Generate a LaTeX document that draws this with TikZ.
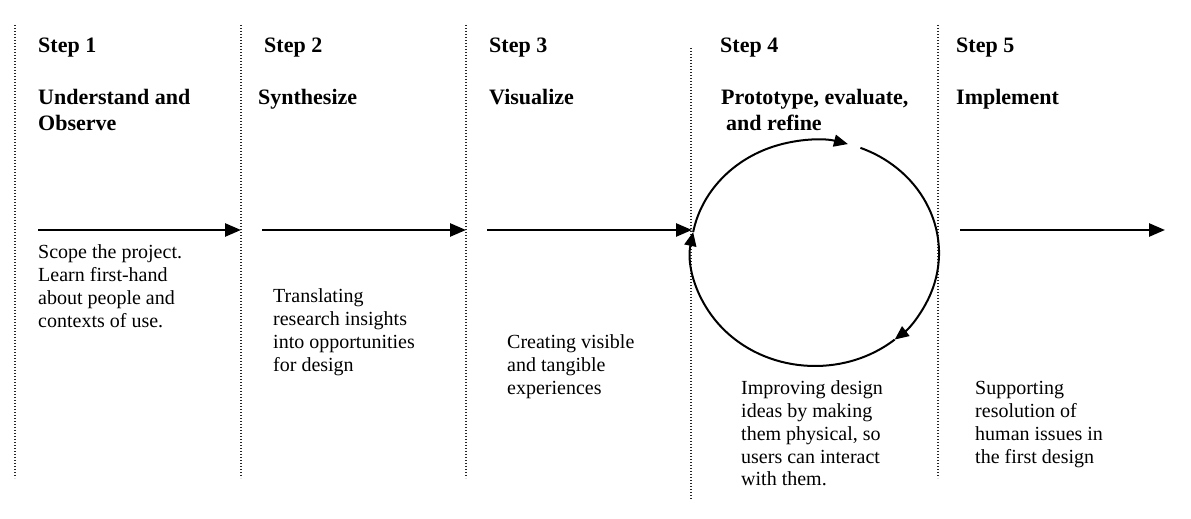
\documentclass[tikz,border=0pt]{standalone}
\usepackage{fontspec}
\setmainfont{Liberation Serif}
\usetikzlibrary{arrows.meta,calc}
\begin{document}
\begin{tikzpicture}[x=1pt,y=1pt,
  sep/.style={draw=black!85, line width=1.1pt, dash pattern=on 1.1pt off 1.9pt},
  flow/.style={line width=2.6pt, -{Triangle[length=16pt,width=13pt]}},
  cyc/.style={line width=2pt, -{Triangle[length=14pt,width=12pt]}},
  title/.style={anchor=base west, inner sep=0pt, align=left, font=\fontsize{22}{26}\selectfont\bfseries},
  body/.style={anchor=base west, inner sep=0pt, align=left, font=\fontsize{20}{22.7}\selectfont}]
\useasboundingbox (0,0) rectangle (1191,519);
% separators
\coordinate (s1t) at (15,494);  \coordinate (s1b) at (15,41);
\coordinate (s2t) at (241,494); \coordinate (s2b) at (241,41);
\coordinate (s3t) at (466,494); \coordinate (s3b) at (466,41);
\coordinate (s4t) at (691,471); \coordinate (s4b) at (691,19);
\coordinate (s5t) at (938,494); \coordinate (s5b) at (938,41);
\foreach \i in {1,...,5} \draw[sep] (s\i t) -- (s\i b);
% titles
\node[title] (t1) at (38,466) {Step 1};
\node[title] (t2) at (264,466) {Step 2};
\node[title] (t3) at (489,466) {Step 3};
\node[title] (t4) at (720,466) {Step 4};
\node[title] (t5) at (956,466) {Step 5};
\node[title] (h1) at (38,388) {Understand and\\Observe};
\node[title] (h2) at (258,414) {Synthesize};
\node[title] (h3) at (489,414) {Visualize};
\node[title] (h4) at (721,388) {Prototype, evaluate,\\\hspace*{5pt}and refine};
\node[title] (h5) at (956,414) {Implement};
% bodies (anchor = baseline of last line)
\node[body] (b1) at (38,191.9) {Scope the project.\\Learn first-hand\\about people and\\contexts of use.};
\node[body] (b2) at (273,147.9) {Translating\\research insights\\into opportunities\\for design};
\node[body] (b3) at (507,124.6) {Creating visible\\and tangible\\experiences};
\node[body] (b4) at (741,33.2) {Improving design\\ideas by making\\them physical, so\\users can interact\\with them.};
\node[body] (b5) at (975,55.9) {Supporting\\resolution of\\human issues in\\the first design};
% flow arrows
\coordinate (a1s) at (38,289);  \coordinate (a1e) at (241,289);
\coordinate (a2s) at (262,289); \coordinate (a2e) at (466,289);
\coordinate (a3s) at (487,289); \coordinate (a3e) at (692,289);
\coordinate (a5s) at (960,289); \coordinate (a5e) at (1165,289);
\draw[flow] (a1s) -- (a1e);
\draw[flow] (a2s) -- (a2e);
\draw[flow] (a3s) -- (a3e);
\draw[flow] (a5s) -- (a5e);
% cycle
\coordinate (c) at (815,266);
\draw[cyc] ($(c)+(68.5:124 and 113)$) arc[start angle=68.5,end angle=-50,x radius=124,y radius=113];
\draw[cyc] ($(c)+(-50:124 and 113)$) arc[start angle=-50,end angle=-190.7,x radius=124,y radius=113];
\draw[cyc] ($(c)+(-190.7:124 and 113)$) arc[start angle=-190.7,end angle=-285.4,x radius=124,y radius=113];
\end{tikzpicture}
\end{document}
